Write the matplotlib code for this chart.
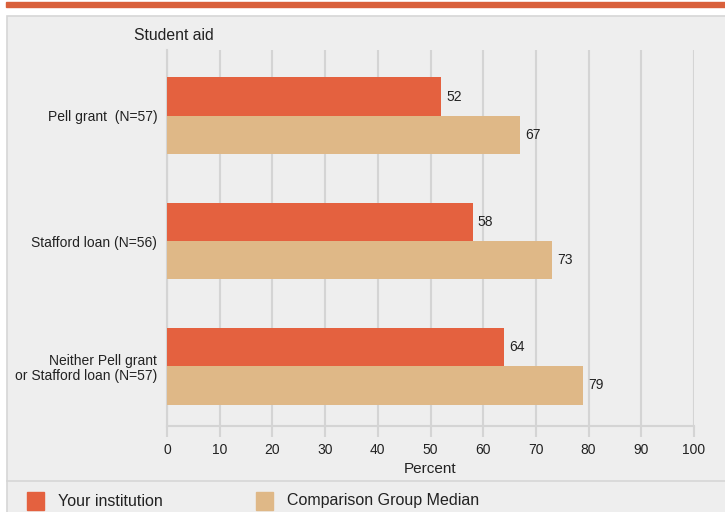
import matplotlib.pyplot as plt
from matplotlib.patches import Rectangle
from matplotlib.lines import Line2D
import numpy as np

plt.rcParams['font.family'] = ['Liberation Sans', 'DejaVu Sans']

categories = ["Pell grant  (N=57)", "Stafford loan (N=56)",
              "Neither Pell grant\nor Stafford loan (N=57)"]
your_inst = [52, 58, 64]
comparison = [67, 73, 79]
ticks = [0, 10, 20, 30, 40, 50, 60, 70, 80, 90, 100]

orange = '#e4613f'
tan = '#dfb887'
panel = '#eeeeee'
gridc = '#d4d4d4'
txt = '#222222'

W, H = 725, 512
fig = plt.figure(figsize=(W / 100, H / 100), dpi=100)
fig.patch.set_facecolor('white')

def px(x, y, w, h):
    # pixel box (top-left origin) -> figure fraction
    return (x / W, 1 - (y + h) / H, w / W, h / H)

# top orange rule
fig.patches.append(Rectangle((6 / W, 1 - 7 / H), 719 / W, 5 / H,
                             transform=fig.transFigure, color='#d9603b', zorder=-10))
# gray panel
x0, y0, w0, h0 = px(7, 16, 720, 500)
fig.patches.append(Rectangle((x0, y0), w0, h0, transform=fig.transFigure,
                             facecolor=panel, edgecolor='#d6d6d6', lw=1.2, zorder=-10))
# separator above legend
fig.add_artist(Line2D([7 / W, 1], [1 - 481 / H] * 2, transform=fig.transFigure,
                      color='#d6d6d6', lw=1.2, zorder=-9))

ax = fig.add_axes(px(167, 50, 527, 376))
ax.set_facecolor(panel)

y = np.arange(len(categories))
bh = 0.305
ax.barh(y - bh / 2, your_inst, height=bh, color=orange, zorder=3)
ax.barh(y + bh / 2, comparison, height=bh, color=tan, zorder=3)

for i in range(len(categories)):
    ax.text(your_inst[i] + 1.0, y[i] - bh / 2, str(your_inst[i]),
            va='center', ha='left', fontsize=10, color=txt, zorder=4)
    ax.text(comparison[i] + 1.0, y[i] + bh / 2, str(comparison[i]),
            va='center', ha='left', fontsize=10, color=txt, zorder=4)

ax.set_xlim(0, 100)
ax.set_ylim(2.476, -0.524)
ax.set_xticks(ticks)
ax.set_xticklabels([str(t) for t in ticks], fontsize=10, color=txt)
ax.set_yticks(y)
ax.set_yticklabels(categories, fontsize=10, color=txt, linespacing=1.1)
ax.tick_params(axis='y', length=0, pad=7)
ax.tick_params(axis='x', length=8, color=gridc, width=1.5, pad=4)
ax.grid(axis='x', color=gridc, lw=1.5, zorder=1)
for s in ['top', 'right']:
    ax.spines[s].set_visible(False)
ax.spines['left'].set_color(gridc)
ax.spines['left'].set_linewidth(1.5)
ax.spines['bottom'].set_color(gridc)
ax.spines['bottom'].set_linewidth(1.5)
ax.set_xlabel("Percent", fontsize=11, color=txt, labelpad=4)

fig.text(134 / W, 1 - 35 / H, "Student aid", fontsize=11.3, color=txt,
         va='center', ha='left')

# legend
fig.patches.append(Rectangle((27 / W, 1 - 510 / H), 17 / W, 18 / H,
                             transform=fig.transFigure, color=orange))
fig.text(58 / W, 1 - 501 / H, "Your institution", fontsize=11.5,
         color=txt, va='center')
fig.patches.append(Rectangle((256 / W, 1 - 510 / H), 17 / W, 18 / H,
                             transform=fig.transFigure, color=tan))
fig.text(287 / W, 1 - 501 / H, "Comparison Group Median", fontsize=11.5,
         color=txt, va='center')

fig.savefig('out.png', dpi=100)
